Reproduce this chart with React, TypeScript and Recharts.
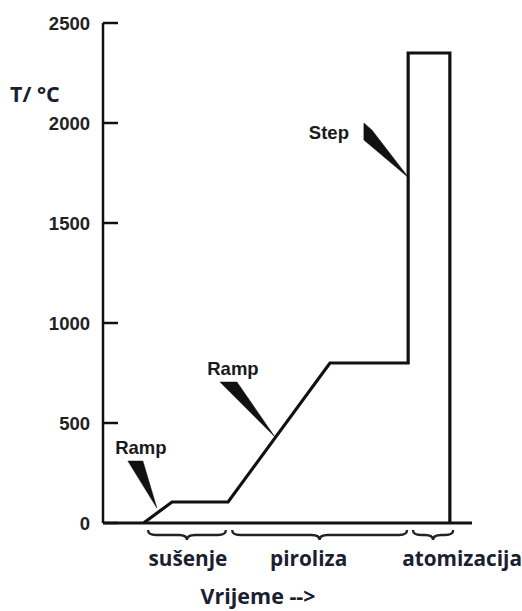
import React from 'react';
import { LineChart, Line, XAxis, YAxis, ReferenceDot, ReferenceArea, Customized } from 'recharts';

// ---- data ----
const times = [11, 18.7, 33.9, 61.5, 82.7, 82.7, 94, 94];
const temps = [0, 105, 105, 800, 800, 2350, 2350, 0];
const yTicks = [0, 500, 1000, 1500, 2000, 2500];
const phaseNames = ['sušenje', 'piroliza', 'atomizacija'];
const phaseStart = [12.2, 35, 84];
const phaseEnd = [33.3, 82.4, 94.9];
const annotationLabels = ['Ramp', 'Ramp', 'Step'];
const annotationTimes = [14.6, 46.6, 82.9];
const annotationTemps = [75, 430, 1725];
const yTitle = 'T/ °C';
const xTitle = 'Vrijeme -->';

// ---- styles ----
const W = 522;
const H = 611;
const INK = '#111';
const LABEL_INK = '#1b2030';
const SANS_BOLD = '"Liberation Sans", Arial, sans-serif';
const CAL = '"Open Sans", "Noto Sans", sans-serif';
const CAL_SIZE = 20.8;

const WEDGES = [
  { poly: [[-29, -47], [-14, -47], [0, 0]], labelDx: -16, labelDy: -54 },
  { poly: [[-55, -55], [-38, -55], [0, 0]], labelDx: -42, labelDy: -62 },
  { poly: [[-45, -55], [-37, -48], [0, 0], [-45, -38]], labelDx: -80, labelDy: -39 },
];
const PHASE_LABEL_DX = [1, -11, 29];

const data = times.map((t, i) => ({ t, temp: temps[i] }));

const YTick = (props: any) => {
  const { x, y, payload } = props;
  return (
    <g>
      <line x1={x} x2={x + 15} y1={y} y2={y} stroke={INK} strokeWidth={2.5} />
      <text
        x={x - 13}
        y={y}
        dy={6.5}
        textAnchor="end"
        fontFamily={SANS_BOLD}
        fontWeight="bold"
        fontSize={18.5}
        fill="#222"
      >
        {payload.value}
      </text>
    </g>
  );
};

const makeWedge = (i: number) => (props: any) => {
  const { cx, cy } = props;
  const w = WEDGES[i];
  const pts = w.poly.map(([dx, dy]) => `${cx + dx},${cy + dy}`).join(' ');
  return (
    <g>
      <polygon points={pts} fill={INK} stroke={INK} strokeWidth={0.5} />
      <text
        x={cx + w.labelDx}
        y={cy + w.labelDy}
        textAnchor="middle"
        fontFamily={SANS_BOLD}
        fontWeight="bold"
        fontSize={18.5}
        fill="#1a1a1a"
      >
        {annotationLabels[i]}
      </text>
    </g>
  );
};

const makeBrace = (i: number) => (props: any) => {
  const { x, y, width, height } = props;
  const x1 = x;
  const x2 = x + width;
  const cx = (x1 + x2) / 2;
  const y0 = y + height + 7;
  const h = 10;
  const r = 8;
  const m = y0 + h / 2;
  const d = `M${x1},${y0} Q${x1},${m} ${x1 + r},${m} L${cx - r},${m} Q${cx},${m} ${cx},${y0 + h} Q${cx},${m} ${cx + r},${m} L${x2 - r},${m} Q${x2},${m} ${x2},${y0}`;
  return (
    <g>
      <path d={d} fill="none" stroke="#222" strokeWidth={2.3} />
      <text
        x={cx + PHASE_LABEL_DX[i]}
        y={y + height + 43}
        textAnchor="middle"
        fontFamily={CAL}
        fontWeight="bold"
        fontSize={CAL_SIZE}
        fill={LABEL_INK}
      >
        {phaseNames[i]}
      </text>
    </g>
  );
};

const Titles = () => (
  <g>
    <text x={10} y={102} fontFamily={CAL} fontWeight="bold" fontSize={21.5} fill={LABEL_INK}>
      {yTitle}
    </text>
    <text x={258} y={604} textAnchor="middle" fontFamily={CAL} fontWeight="bold" fontSize={CAL_SIZE + 0.7} fill={LABEL_INK}>
      {xTitle}
    </text>
  </g>
);

export default function App() {
  return (
    <div style={{ position: 'absolute', left: 0, top: 0, width: W, height: H, background: '#fff' }}>
      <LineChart width={W} height={H} data={data} margin={{ top: 23, right: 50, bottom: 58, left: 43 }}>
        <XAxis
          dataKey="t"
          type="number"
          domain={[0, 100]}
          tick={false}
          tickLine={false}
          axisLine={{ stroke: INK, strokeWidth: 3 }}
          height={30}
        />
        <YAxis
          type="number"
          domain={[0, 2500]}
          ticks={yTicks}
          width={60}
          tickLine={false}
          tickSize={0}
          tickMargin={0}
          tick={<YTick />}
          axisLine={{ stroke: INK, strokeWidth: 2.5 }}
          interval={0}
        />
        {phaseNames.map((n, i) => (
          <ReferenceArea
            key={n}
            x1={phaseStart[i]}
            x2={phaseEnd[i]}
            ifOverflow="visible"
            shape={makeBrace(i)}
          />
        ))}
        <Line
          dataKey="temp"
          type="linear"
          stroke={INK}
          strokeWidth={3.2}
          strokeLinejoin="miter"
          dot={false}
          activeDot={false}
          isAnimationActive={false}
        />
        {annotationLabels.map((l, i) => (
          <ReferenceDot
            key={i}
            x={annotationTimes[i]}
            y={annotationTemps[i]}
            ifOverflow="visible"
            shape={makeWedge(i)}
          />
        ))}
        <Customized component={<Titles />} />
      </LineChart>
    </div>
  );
}
